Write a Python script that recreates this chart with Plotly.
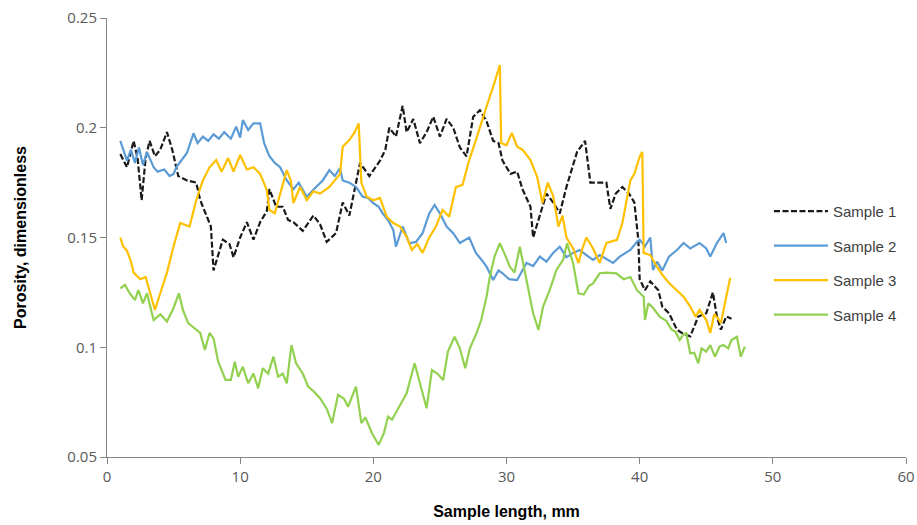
import plotly.graph_objects as go

# ---------------- data ----------------
s1_x = [1.0, 1.5, 2.0, 2.3, 2.6, 2.9, 3.2, 3.6, 4.0, 4.5, 4.9, 5.35, 6.0, 6.7, 7.0, 7.5, 7.8, 8.0, 8.3, 8.7,
        9.2, 9.5, 10.0, 10.5, 11.0, 11.5, 12.0, 12.2, 12.7, 13.2, 13.6, 14.0, 14.7, 15.5, 16.0, 16.5, 17.2, 17.7,
        18.2, 18.6, 19.0, 19.7, 20.5, 20.9, 21.2, 21.7, 22.2, 22.5, 23.0, 23.5, 24.0, 24.5, 25.0, 25.5, 26.0,
        26.5, 27.0, 27.5, 28.0, 28.5, 29.0, 29.4, 29.7, 30.3, 30.8, 31.2, 31.8, 32.0, 32.5, 33.0, 33.5, 34.0,
        34.5, 35.3, 35.9, 36.3, 36.8, 37.5, 37.8, 38.2, 38.7, 39.2, 39.6, 39.9, 40.0, 40.4, 40.8, 41.1, 41.4,
        41.7, 42.2, 42.8, 43.3, 43.8, 44.0, 44.4, 45.0, 45.5, 45.8, 46.1, 46.5, 46.9]
s1_y = [0.188, 0.182, 0.194, 0.186, 0.167, 0.186, 0.194, 0.187, 0.190, 0.198, 0.190, 0.178, 0.176, 0.175, 0.167,
        0.160, 0.155, 0.135, 0.141, 0.149, 0.147, 0.141, 0.150, 0.157, 0.149, 0.157, 0.162, 0.172, 0.164, 0.164,
        0.158, 0.157, 0.153, 0.160, 0.156, 0.148, 0.152, 0.166, 0.160, 0.172, 0.184, 0.178, 0.185, 0.190, 0.200,
        0.196, 0.210, 0.198, 0.204, 0.193, 0.198, 0.205, 0.196, 0.204, 0.200, 0.191, 0.187, 0.205, 0.208, 0.203,
        0.194, 0.193, 0.185, 0.179, 0.180, 0.172, 0.164, 0.150, 0.160, 0.170, 0.166, 0.161, 0.173, 0.189, 0.194,
        0.175, 0.175, 0.175, 0.163, 0.170, 0.173, 0.170, 0.166, 0.149, 0.131, 0.126, 0.130, 0.128, 0.126, 0.1185,
        0.1155, 0.108, 0.106, 0.105, 0.108, 0.114, 0.1155, 0.125, 0.114, 0.108, 0.114, 0.113]

s2_x = [1.0, 1.3, 1.5, 1.8, 2.1, 2.4, 2.7, 3.0, 3.2, 3.5, 3.8, 4.3, 4.7, 5.0, 5.2, 5.6, 6.0, 6.5, 6.8, 7.2, 7.6,
        8.0, 8.4, 8.8, 9.3, 9.7, 10.0, 10.2, 10.6, 11.0, 11.5, 11.8, 12.2, 12.6, 13.0, 13.5, 14.0, 14.4, 15.0,
        15.7, 16.2, 16.7, 17.1, 17.5, 17.7, 18.2, 18.7, 19.2, 19.6, 20.0, 20.4, 20.7, 21.1, 21.5, 21.7, 22.2,
        22.7, 23.2, 23.7, 24.2, 24.6, 25.0, 25.5, 26.0, 26.5, 27.2, 27.7, 28.1, 28.5, 29.0, 29.4, 29.7, 30.2,
        30.8, 31.2, 31.5, 32.0, 32.5, 33.0, 33.5, 34.0, 34.5, 35.0, 35.5, 36.0, 36.5, 37.0, 37.5, 38.0, 38.5,
        39.0, 39.3, 39.8, 40.0, 40.4, 40.8, 41.0, 41.3, 41.7, 42.2, 42.8, 43.3, 43.8, 44.5, 45.0, 45.3, 45.8,
        46.3, 46.5]
s2_y = [0.194, 0.189, 0.185, 0.190, 0.184, 0.191, 0.183, 0.189, 0.186, 0.182, 0.180, 0.181, 0.178, 0.179, 0.182,
        0.185, 0.1885, 0.1975, 0.193, 0.196, 0.194, 0.197, 0.195, 0.198, 0.195, 0.2005, 0.1955, 0.2035, 0.199,
        0.202, 0.202, 0.193, 0.187, 0.184, 0.182, 0.176, 0.172, 0.175, 0.1686, 0.173, 0.176, 0.1807, 0.178,
        0.1816, 0.176, 0.175, 0.173, 0.1686, 0.168, 0.1657, 0.164, 0.161, 0.158, 0.1534, 0.1458, 0.155, 0.1474,
        0.148, 0.152, 0.161, 0.1648, 0.161, 0.155, 0.152, 0.1475, 0.150, 0.143, 0.140, 0.1367, 0.1306, 0.135,
        0.1337, 0.131, 0.1306, 0.135, 0.1384, 0.137, 0.1413, 0.139, 0.143, 0.1458, 0.141, 0.143, 0.1443, 0.142,
        0.1398, 0.142, 0.140, 0.1384, 0.1413, 0.143, 0.1443, 0.148, 0.149, 0.146, 0.150, 0.1352, 0.139, 0.135,
        0.1413, 0.1443, 0.1475, 0.145, 0.1475, 0.145, 0.1413, 0.1475, 0.152, 0.1475]

s3_x = [1.0, 1.2, 1.5, 1.8, 2.0, 2.5, 2.9, 3.2, 3.6, 4.0, 4.5, 5.0, 5.5, 6.2, 6.7, 7.2, 7.7, 8.2, 8.6, 9.1, 9.5,
        10.0, 10.5, 11.0, 11.5, 12.0, 12.2, 12.6, 13.1, 13.5, 13.8, 14.0, 14.5, 15.0, 15.5, 16.0, 16.7, 17.5,
        17.7, 18.2, 18.6, 18.9, 19.1, 19.5, 20.0, 20.5, 21.0, 21.5, 22.0, 22.5, 22.9, 23.3, 23.7, 24.2, 24.7,
        25.2, 25.7, 26.2, 26.7, 27.2, 27.7, 28.0, 28.5, 29.0, 29.5, 29.6, 30.0, 30.4, 30.8, 31.2, 31.8, 32.3,
        32.7, 33.1, 33.5, 33.9, 34.2, 34.5, 35.0, 35.4, 35.7, 36.0, 36.5, 37.0, 37.5, 38.3, 38.7, 39.3, 39.6,
        40.0, 40.2, 40.3, 40.8, 41.3, 41.7, 42.2, 42.8, 43.3, 43.8, 44.2, 44.5, 45.0, 45.3, 45.6, 45.9, 46.1,
        46.4, 46.8]
s3_y = [0.150, 0.146, 0.144, 0.139, 0.134, 0.131, 0.132, 0.126, 0.117, 0.1246, 0.134, 0.146, 0.1566, 0.155, 0.167,
        0.176, 0.182, 0.1853, 0.180, 0.1862, 0.180, 0.1876, 0.181, 0.182, 0.179, 0.1716, 0.1625, 0.161, 0.1716,
        0.1807, 0.176, 0.1657, 0.173, 0.167, 0.171, 0.170, 0.173, 0.179, 0.1914, 0.1944, 0.198, 0.202, 0.175,
        0.1686, 0.167, 0.168, 0.1595, 0.1566, 0.155, 0.1503, 0.1443, 0.147, 0.143, 0.150, 0.155, 0.1625, 0.1595,
        0.173, 0.174, 0.1853, 0.1944, 0.2005, 0.2096, 0.2187, 0.2286, 0.193, 0.192, 0.1976, 0.1914, 0.190,
        0.1853, 0.1777, 0.1657, 0.175, 0.169, 0.155, 0.160, 0.150, 0.145, 0.1384, 0.145, 0.150, 0.145, 0.1384,
        0.1475, 0.1489, 0.1566, 0.176, 0.179, 0.1868, 0.189, 0.143, 0.142, 0.1367, 0.133, 0.1293, 0.126, 0.123,
        0.1185, 0.1139, 0.117, 0.1124, 0.1065, 0.115, 0.113, 0.111, 0.120, 0.1316]

s4_x = [1.0, 1.35, 1.7, 2.1, 2.35, 2.7, 3.0, 3.5, 4.0, 4.5, 5.0, 5.4, 5.7, 6.1, 6.5, 7.0, 7.35, 7.7, 8.0, 8.35,
        8.9, 9.3, 9.6, 9.85, 10.2, 10.6, 11.0, 11.35, 11.7, 12.1, 12.5, 12.85, 13.2, 13.5, 13.85, 14.2, 14.7,
        15.1, 15.5, 16.0, 16.5, 16.9, 17.35, 17.8, 18.1, 18.7, 19.1, 19.4, 19.9, 20.4, 20.8, 21.1, 21.4, 21.75,
        22.5, 23.1, 23.5, 24.0, 24.4, 24.8, 25.25, 25.6, 26.1, 26.5, 26.9, 27.25, 27.75, 28.1, 28.5, 28.75, 29.1,
        29.5, 29.9, 30.25, 30.6, 31.0, 31.5, 32.0, 32.4, 32.75, 33.25, 33.75, 34.25, 34.55, 35.0, 35.4, 35.8,
        36.2, 36.5, 37.0, 37.5, 38.25, 38.8, 39.3, 39.8, 40.3, 40.4, 40.65, 41.0, 41.5, 42.0, 42.4, 42.7, 43.0,
        43.3, 43.5, 43.8, 44.1, 44.4, 44.65, 45.0, 45.3, 45.65, 46.0, 46.3, 46.65, 46.9, 47.3, 47.6, 47.9]
s4_y = [0.1268, 0.1284, 0.1246, 0.1215, 0.126, 0.120, 0.1246, 0.1124, 0.115, 0.1117, 0.1179, 0.1246, 0.117, 0.111,
        0.109, 0.1065, 0.0988, 0.1065, 0.104, 0.0934, 0.0851, 0.0851, 0.0934, 0.0866, 0.0911, 0.0836, 0.088,
        0.0813, 0.0904, 0.088, 0.0957, 0.0866, 0.088, 0.0836, 0.101, 0.0927, 0.088, 0.0821, 0.080, 0.0768, 0.072,
        0.0654, 0.0783, 0.0765, 0.0729, 0.0821, 0.0654, 0.068, 0.0608, 0.0555, 0.061, 0.0684, 0.067, 0.0707,
        0.079, 0.0927, 0.083, 0.0722, 0.0896, 0.088, 0.0851, 0.098, 0.1048, 0.0995, 0.0904, 0.0995, 0.1064,
        0.1124, 0.123, 0.1321, 0.1413, 0.1474, 0.142, 0.1367, 0.134, 0.1458, 0.1306, 0.1155, 0.1079, 0.1185,
        0.1261, 0.1352, 0.1398, 0.1474, 0.1383, 0.1246, 0.124, 0.128, 0.1291, 0.1337, 0.134, 0.1337, 0.131, 0.132,
        0.126, 0.123, 0.1124, 0.120, 0.118, 0.1139, 0.112, 0.108, 0.107, 0.1033, 0.106, 0.1064, 0.0972, 0.0975,
        0.0927, 0.0995, 0.098, 0.101, 0.0957, 0.1003, 0.101, 0.0995, 0.1033, 0.1048, 0.0957, 0.1003]

names = ["Sample 1", "Sample 2", "Sample 3", "Sample 4"]
colors = ["#1a1a1a", "#5B9BD5", "#FFC000", "#92D050"]
dashes = ["6px,2.5px", "solid", "solid", "solid"]
series = [(s1_x, s1_y), (s2_x, s2_y), (s3_x, s3_y), (s4_x, s4_y)]

fig = go.Figure()
for (xs, ys), name, col, dsh in zip(series, names, colors, dashes):
    fig.add_trace(go.Scatter(
        x=xs, y=ys, mode="lines", name=name, legendgroup=name,
        line=dict(color=col, width=2.2, dash=dsh),
    ))

axis_col = "#868686"
tick_font = dict(family="Liberation Sans Narrow, Open Sans, Arial", size=15, color="#595959")

fig.update_layout(
    width=917, height=525,
    margin=dict(l=107, r=11, t=18, b=68),
    paper_bgcolor="white", plot_bgcolor="white",
    showlegend=True,
    legend=dict(
        x=0.8285, y=0.597, xanchor="left", yanchor="top",
        font=dict(family="Liberation Sans, Arial", size=15, color="#404040"),
        tracegroupgap=12, itemwidth=54, bgcolor="rgba(0,0,0,0)",
    ),
    xaxis=dict(
        range=[0, 60], tickvals=[0, 10, 20, 30, 40, 50, 60], automargin=False,
        showgrid=False, zeroline=False, showline=True, linecolor=axis_col, linewidth=1,
        ticks="outside", ticklen=6, tickcolor=axis_col, tickfont=tick_font,
        title=dict(text="<b>Sample length, mm</b>", standoff=20,
                   font=dict(family="Liberation Sans Narrow, Arial", size=16, color="black")),
    ),
    yaxis=dict(
        range=[0.05, 0.25], tickvals=[0.05, 0.1, 0.15, 0.2, 0.25], automargin=False,
        ticktext=["0.05", "0.1", "0.15", "0.2", "0.25"],
        showgrid=False, zeroline=False, showline=True, linecolor=axis_col, linewidth=1,
        ticks="outside", ticklen=6, tickcolor=axis_col, tickfont=tick_font,
        title=dict(text="<b>Porosity, dimensionless</b>", standoff=36,
                   font=dict(family="Liberation Sans Narrow, Arial", size=16, color="black")),
    ),
)

fig.write_html("out.html")
